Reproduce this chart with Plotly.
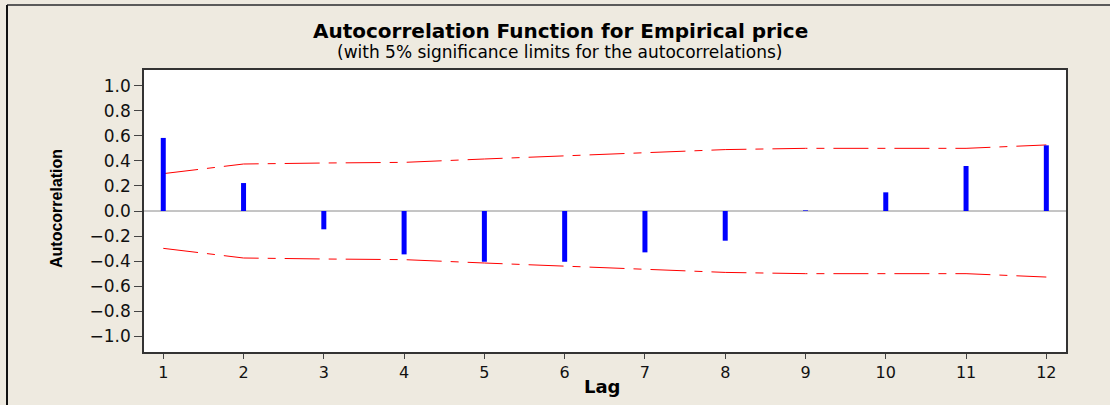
import plotly.graph_objects as go

lags = list(range(1, 13))
acf = [0.583, 0.223, -0.146, -0.346, -0.405, -0.405, -0.330, -0.237, 0.005, 0.149, 0.359, 0.524]
upper = [0.298, 0.375, 0.383, 0.388, 0.415, 0.440, 0.470, 0.490, 0.500, 0.500, 0.500, 0.527]
lower = [-u for u in upper]
yticks = [-1.0, -0.8, -0.6, -0.4, -0.2, 0.0, 0.2, 0.4, 0.6, 0.8, 1.0]

W, H = 1110, 405
L, R, T, B = 144, 1066, 70, 352
ml, mr, mt, mb = L, W - R, T, H - B
pw, ph = R - L, B - T

def px(x):
    return (x - L) / pw

def py(y):
    return (B - y) / ph

fig = go.Figure()

# zero line
fig.add_trace(go.Scatter(x=[0.76, 12.245], y=[0, 0], mode="lines",
                         line=dict(color="#8a8a8a", width=1), hoverinfo="skip", showlegend=False))

# significance limits
dash = "35px,9px,8px,9px"
fig.add_trace(go.Scatter(x=lags, y=upper, mode="lines",
                         line=dict(color="#ff0000", width=1, dash=dash), showlegend=False))
fig.add_trace(go.Scatter(x=lags, y=lower, mode="lines",
                         line=dict(color="#ff0000", width=1, dash=dash), showlegend=False))

# ACF spikes
xs, ys = [], []
for l, v in zip(lags, acf):
    xs += [l, l, None]
    ys += [0, v, None]
fig.add_trace(go.Scatter(x=xs, y=ys, mode="lines",
                         line=dict(color="#0000ff", width=5), showlegend=False))

bg = "#EEEAE0"
fig.update_layout(
    width=W, height=H,
    margin=dict(l=ml, r=mr, t=mt, b=mb),
    paper_bgcolor=bg, plot_bgcolor="white",
    font=dict(family="DejaVu Sans, Verdana", color="#111111", size=16),
    xaxis=dict(range=[0.76, 12.245], tickmode="array", tickvals=lags,
               ticktext=[str(l) for l in lags], showgrid=False, zeroline=False,
               showline=True, linecolor="#333333", linewidth=1.5, mirror=True,
               ticks="outside", ticklen=5, tickcolor="#444444",
               tickfont=dict(size=16)),
    yaxis=dict(range=[-1.125, 1.125], tickmode="array", tickvals=yticks,
               ticktext=[f"{t:.1f}".replace("-", "\u2212") for t in yticks],
               showgrid=False, zeroline=False,
               showline=True, linecolor="#333333", linewidth=1.5, mirror=True,
               ticks="outside", ticklen=8, tickcolor="#444444",
               tickfont=dict(size=17)),
    annotations=[
        dict(text="<b>Autocorrelation Function for Empirical price</b>",
             x=px(560), y=py(31), xref="paper", yref="paper", showarrow=False,
             xanchor="center", yanchor="middle",
             font=dict(family="DejaVu Sans, Verdana", size=20, color="#000000")),
        dict(text="(with 5% significance limits for the autocorrelations)",
             x=px(560), y=py(52), xref="paper", yref="paper", showarrow=False,
             xanchor="center", yanchor="middle",
             font=dict(family="DejaVu Sans, Verdana", size=17, color="#000000")),
        dict(text="<b>Autocorrelation</b>", textangle=-90,
             x=px(56), y=py(209), xref="paper", yref="paper", showarrow=False,
             xanchor="center", yanchor="middle",
             font=dict(family="Liberation Sans Narrow, Arial Narrow, Liberation Sans", size=16, color="#000000")),
        dict(text="<b>Lag</b>",
             x=px(602), y=py(386), xref="paper", yref="paper", showarrow=False,
             xanchor="center", yanchor="middle",
             font=dict(family="DejaVu Sans, Verdana", size=18, color="#000000")),
    ],
    shapes=[
        dict(type="line", xref="paper", yref="paper", x0=px(7), x1=px(1110), y0=py(5), y1=py(5),
             line=dict(color="#5a5a5a", width=2)),
        dict(type="line", xref="paper", yref="paper", x0=px(7), x1=px(7), y0=py(5), y1=py(405),
             line=dict(color="#111111", width=2)),
    ],
)

fig.write_html("out.html")
